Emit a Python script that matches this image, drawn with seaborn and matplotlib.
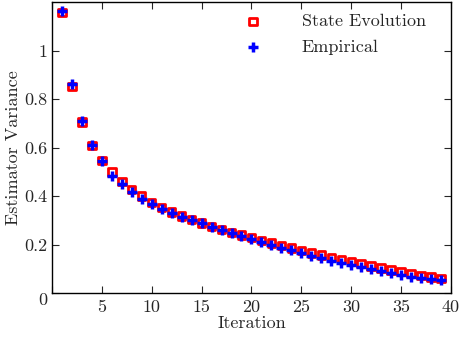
import numpy as np
import pandas as pd
import matplotlib
matplotlib.use("Agg")
import matplotlib.pyplot as plt
import matplotlib.transforms as mtransforms
import seaborn as sns

# values
iterations = list(range(1, 40))
state_evolution = [1.157, 0.852, 0.705, 0.609, 0.548, 0.500, 0.460, 0.428, 0.400, 0.375,
                   0.354, 0.335, 0.318, 0.303, 0.289, 0.276, 0.263, 0.251, 0.239, 0.228,
                   0.217, 0.206, 0.196, 0.186, 0.176, 0.166, 0.157, 0.148, 0.139, 0.130,
                   0.121, 0.112, 0.104, 0.095, 0.088, 0.080, 0.073, 0.066, 0.060]
empirical = [1.163, 0.862, 0.711, 0.612, 0.543, 0.485, 0.448, 0.415, 0.389, 0.366,
             0.346, 0.331, 0.315, 0.301, 0.289, 0.273, 0.260, 0.247, 0.235, 0.223,
             0.210, 0.198, 0.187, 0.176, 0.165, 0.153, 0.143, 0.133, 0.125, 0.115,
             0.106, 0.098, 0.091, 0.081, 0.074, 0.067, 0.061, 0.058, 0.054]
x_ticks = [0, 5, 10, 15, 20, 25, 30, 35, 40]
x_tick_labels = ["", "5", "10", "15", "20", "25", "30", "35", "40"]
y_ticks = [0, 0.2, 0.4, 0.6, 0.8, 1.0]
y_tick_labels = ["0", "0.2", "0.4", "0.6", "0.8", "1"]

df = pd.DataFrame({"Iteration": iterations, "se": state_evolution, "emp": empirical})

sns.set_style("ticks")
plt.rcParams["font.family"] = ["cmr10", "DejaVu Serif"]
plt.rcParams["axes.formatter.use_mathtext"] = True
plt.rcParams["font.size"] = 13

fig = plt.figure(figsize=(4.62, 3.54), dpi=100)
ax = fig.add_axes([0.1126, 0.172, 0.8634, 0.822])

sns.scatterplot(data=df, x="Iteration", y="se", marker="s", s=28, facecolor="none",
                edgecolor="red", linewidth=2, label="State Evolution", ax=ax, zorder=2)
sns.scatterplot(data=df, x="Iteration", y="emp", marker="+", s=50, color="blue",
                linewidth=2.5, label="Empirical", ax=ax, zorder=3)

ax.set_xlim(0, 40)
ax.set_ylim(0, 1.2)
ax.set_xticks(x_ticks)
ax.set_xticklabels(x_tick_labels)
ax.set_yticks(y_ticks)
ax.set_yticklabels(y_tick_labels)
ax.tick_params(direction="in", top=True, right=True, length=5, width=0.8,
               labelsize=13)
ax.tick_params(axis="x", pad=5)
ax.tick_params(axis="y", pad=3)
# the "0" sits a little below the corner in the reference
zero_lbl = ax.get_yticklabels()[0]
zero_lbl.set_transform(zero_lbl.get_transform() +
                       mtransforms.ScaledTranslation(0, -6 / 100, fig.dpi_scale_trans))
for sp in ax.spines.values():
    sp.set_linewidth(1.0)
    sp.set_color("black")
ax.set_xlabel("Iteration", fontsize=13, labelpad=0)
ax.set_ylabel("Estimator Variance", fontsize=13, labelpad=3)

ax.legend(loc="upper right", frameon=False, fontsize=13, handletextpad=1.7,
          borderaxespad=0.0, labelspacing=0.55, bbox_to_anchor=(0.955, 0.985))

fig.savefig("out.png", dpi=100)
